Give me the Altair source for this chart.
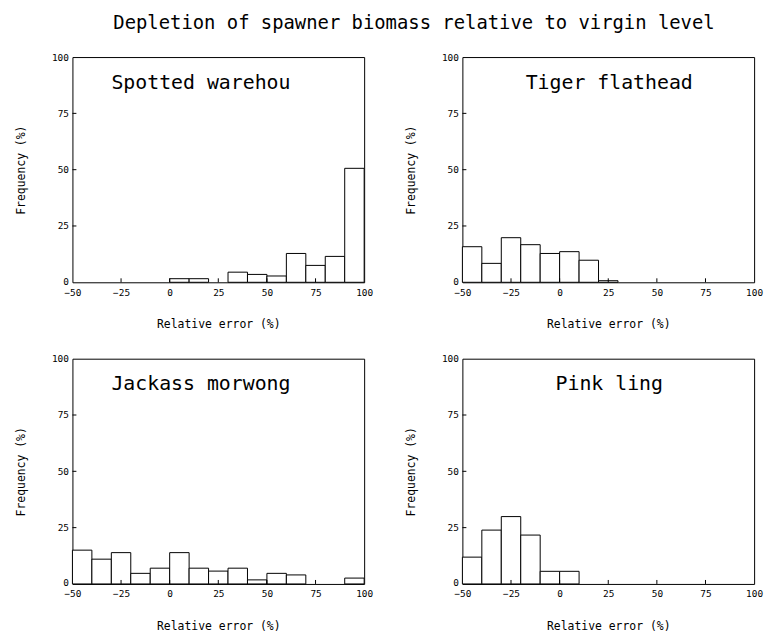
import altair as alt
import pandas as pd

# ---- data ----
title_text = "Depletion of spawner biomass relative to virgin level"
species = ["Spotted warehou", "Tiger flathead", "Jackass morwong", "Pink ling"]
bin_starts = list(range(-50, 100, 10))
bin_width = 10
spotted = [0, 0, 0, 0, 0, 1.6, 1.6, 0, 4.5, 3.5, 2.8, 12.8, 7.5, 11.5, 50.6]
tiger = [15.8, 8.4, 19.8, 16.7, 12.8, 13.6, 9.8, 0.7, 0, 0, 0, 0, 0, 0, 0]
jackass = [15.0, 11.0, 13.9, 4.7, 7.0, 13.9, 7.0, 5.7, 7.0, 1.8, 4.7, 4.0, 0, 0, 2.6]
pink = [11.9, 23.9, 29.9, 21.7, 5.6, 5.6, 0, 0, 0, 0, 0, 0, 0, 0, 0]
x_labels = [-50, -25, 0, 25, 50, 75, 100]
y_labels = [0, 25, 50, 75, 100]
x_inner_ticks = [-25, 0, 25, 50, 75]
y_inner_ticks = [25, 50, 75]

W, H = 294, 227
FONT = "DejaVu Sans Mono"

xs = alt.Scale(domain=[-50, 100], nice=False, zero=False)
ys = alt.Scale(domain=[0, 100], nice=False, zero=False)

x_axis = alt.Axis(
    values=x_labels, title="Relative error (%)", ticks=False, domain=False, grid=False,
    labelFont=FONT, labelFontSize=9.5, labelColor="black", labelPadding=5,
    labelFlush=False, labelOverlap=False,
    titleFont=FONT, titleFontSize=11.5, titleFontWeight="normal", titleColor="black",
    titlePadding=22,
)
y_axis = alt.Axis(
    values=y_labels, title="Frequency (%)", ticks=False, domain=False, grid=False,
    labelFont=FONT, labelFontSize=9.5, labelColor="black", labelPadding=4,
    labelFlush=False, labelOverlap=False,
    labelOffset={"condition": {"test": "datum.value === 0", "value": -1}, "value": 0},
    titleFont=FONT, titleFontSize=11.5, titleFontWeight="normal", titleColor="black",
    titlePadding=25,
)


def panel(name, vals, label_x):
    df = pd.DataFrame({
        "start": bin_starts,
        "end": [b + bin_width for b in bin_starts],
        "freq": vals,
    })
    df = df[df["freq"] > 0]
    bars = alt.Chart(df).mark_rect(fill="white", stroke="black", strokeWidth=1).encode(
        x=alt.X("start:Q", scale=xs, axis=x_axis),
        x2="end:Q",
        y=alt.Y("freq:Q", scale=ys, axis=y_axis),
        y2=alt.datum(0),
    )
    xt = alt.Chart(pd.DataFrame({"v": x_inner_ticks})).mark_rule(
        color="black", strokeWidth=1
    ).encode(
        x=alt.X("v:Q", scale=xs, axis=x_axis),
        y=alt.value(H),
        y2=alt.value(H - 4),
    )
    yt = alt.Chart(pd.DataFrame({"v": y_inner_ticks})).mark_rule(
        color="black", strokeWidth=1
    ).encode(
        y=alt.Y("v:Q", scale=ys, axis=y_axis),
        x=alt.value(0),
        x2=alt.value(4),
    )
    lab = alt.Chart(pd.DataFrame({"name": [name]})).mark_text(
        font=FONT, fontSize=20, color="black", align="center", baseline="middle"
    ).encode(
        text="name:N",
        x=alt.value(label_x),
        y=alt.value(26),
    )
    return alt.layer(bars, xt, yt, lab).properties(width=W, height=H)


p1 = panel(species[0], spotted, 129.5)
p2 = panel(species[1], tiger, 148)
p3 = panel(species[2], jackass, 129.5)
p4 = panel(species[3], pink, 148)

chart = alt.concat(
    p1, p2, p3, p4, columns=2,
    spacing=alt.RowColnumber(row=77, column=99), bounds="flush",
).properties(
    title=alt.TitleParams(
        text=title_text, font=FONT, fontSize=19, fontWeight="normal", color="black",
        anchor="middle", offset=19, dx=25,
    ),
    padding={"left": 15, "top": 11, "right": 5, "bottom": 5},
    background="white",
).configure_view(stroke="black", strokeWidth=1)

chart.save("out.html", embed_options={"renderer": "svg", "actions": False})
